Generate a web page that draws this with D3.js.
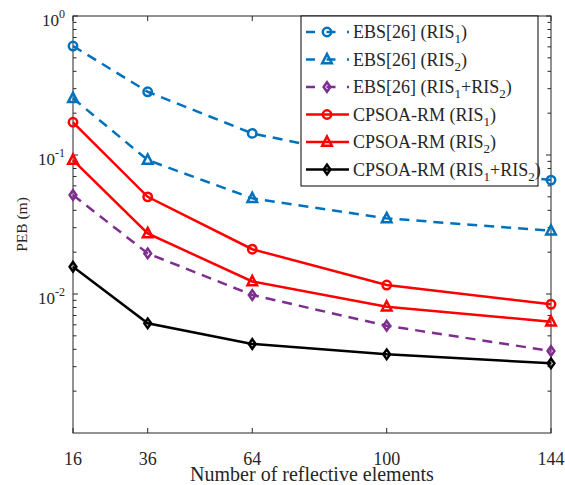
<!DOCTYPE html>
<html>
<head>
<meta charset="utf-8">
<script src="https://cdn.jsdelivr.net/npm/d3@7"></script>
<style>
  body { margin: 0; background: #fff; }
  svg text { font-family: "Liberation Serif", "Times New Roman", serif; fill: #262626; }
</style>
</head>
<body>
<svg id="chart"></svg>
<script>
// data
var elements = [16, 36, 64, 100, 144];
var ebsRis1 = [0.608, 0.285, 0.143, 0.091, 0.066];
var ebsRis2 = [0.256, 0.092, 0.0488, 0.035, 0.0285];
var ebsBoth = [0.0515, 0.0196, 0.00984, 0.00591, 0.00389];
var cpRis1 = [0.172, 0.050, 0.0210, 0.0116, 0.00843];
var cpRis2 = [0.092, 0.0273, 0.0123, 0.0081, 0.00632];
var cpBoth = [0.0157, 0.00615, 0.00437, 0.00368, 0.00317];
var yMajor = [1, 0.1, 0.01];
var yExp = ["0", "-1", "-2"];

var series = [
    {name: ["EBS[26] (RIS", "1", ")"], vals: ebsRis1, color: "#0072BD", dash: true, marker: "circle"},
    {name: ["EBS[26] (RIS", "2", ")"], vals: ebsRis2, color: "#0072BD", dash: true, marker: "triangle"},
    {name: ["EBS[26] (RIS", "1", "+RIS", "2", ")"], vals: ebsBoth, color: "#7E2F8E", dash: true, marker: "diamond"},
    {name: ["CPSOA-RM (RIS", "1", ")"], vals: cpRis1, color: "#FF0000", dash: false, marker: "circle"},
    {name: ["CPSOA-RM (RIS", "2", ")"], vals: cpRis2, color: "#FF0000", dash: false, marker: "triangle"},
    {name: ["CPSOA-RM (RIS", "1", "+RIS", "2", ")"], vals: cpBoth, color: "#000000", dash: false, marker: "diamond"}
];

var W = 565, H = 485;
var margin = {top: 16, right: 14, bottom: 52, left: 73};
var width = W - margin.left - margin.right,
    height = H - margin.top - margin.bottom;

var svg = d3.select("#chart").attr("width", W).attr("height", H);
var g = svg.append("g").attr("transform", "translate(" + margin.left + "," + margin.top + ")");

var x = d3.scaleLinear().domain([16, 144]).range([0, width]);
var y = d3.scaleLog().domain([1e-3, 1]).range([height, 0]);

// minor ticks on the log axis
var minor = [];
[1e-3, 1e-2, 1e-1].forEach(function (dec) {
    for (var k = 2; k <= 9; k++) minor.push(dec * k);
});

// ticks, MATLAB style (inward on all four sides)
var axisColor = "#262626";
var tk = g.append("g").attr("stroke", axisColor).attr("stroke-width", 1);
elements.forEach(function (v) {
    tk.append("line").attr("x1", x(v)).attr("x2", x(v)).attr("y1", height).attr("y2", height - 5);
    tk.append("line").attr("x1", x(v)).attr("x2", x(v)).attr("y1", 0).attr("y2", 5);
});
yMajor.forEach(function (v) {
    tk.append("line").attr("x1", 0).attr("x2", 5).attr("y1", y(v)).attr("y2", y(v));
    tk.append("line").attr("x1", width).attr("x2", width - 5).attr("y1", y(v)).attr("y2", y(v));
});
minor.forEach(function (v) {
    tk.append("line").attr("x1", 0).attr("x2", 3.5).attr("y1", y(v)).attr("y2", y(v));
    tk.append("line").attr("x1", width).attr("x2", width - 3.5).attr("y1", y(v)).attr("y2", y(v));
});
g.append("rect").attr("width", width).attr("height", height)
    .attr("fill", "none").attr("stroke", axisColor).attr("stroke-width", 1);

// x tick labels
g.selectAll(".xlab").data(elements).enter().append("text")
    .attr("class", "xlab")
    .attr("x", function (d) { return x(d); })
    .attr("y", height + 32)
    .attr("text-anchor", "middle")
    .style("font-size", "18px")
    .text(function (d) { return d; });

// y tick labels 10^n
yMajor.forEach(function (v, i) {
    var t = g.append("text")
        .attr("x", -8)
        .attr("y", y(v) + 10)
        .attr("text-anchor", "end")
        .style("font-size", "17px");
    t.append("tspan").text("10");
    t.append("tspan").attr("dy", -8).style("font-size", "12px").text(yExp[i]);
});

// axis titles
g.append("text")
    .attr("x", width / 2)
    .attr("y", height + 48)
    .attr("text-anchor", "middle")
    .style("font-size", "20px")
    .text("Number of reflective elements");
g.append("text")
    .attr("transform", "translate(" + (-46) + "," + (height / 2) + ")rotate(-90)")
    .attr("text-anchor", "middle")
    .style("font-size", "15.5px")
    .text("PEB (m)");

function drawMarker(sel, type, cx, cy, color) {
    var m;
    if (type === "circle") {
        m = sel.append("circle").attr("cx", cx).attr("cy", cy).attr("r", 4.2);
    } else if (type === "triangle") {
        m = sel.append("path").attr("d", "M" + cx + "," + (cy - 5.5) + "L" + (cx + 4.8) + "," + (cy + 3.8) + "L" + (cx - 4.8) + "," + (cy + 3.8) + "Z");
    } else {
        m = sel.append("path").attr("d", "M" + cx + "," + (cy - 4.8) + "L" + (cx + 3.4) + "," + cy + "L" + cx + "," + (cy + 4.8) + "L" + (cx - 3.4) + "," + cy + "Z");
    }
    m.attr("fill", "none").attr("stroke", color).attr("stroke-width", 2.5);
}

var line = d3.line()
    .x(function (d, i) { return x(elements[i]); })
    .y(function (d) { return y(d); });

series.forEach(function (s) {
    var sg = g.append("g");
    sg.append("path")
        .attr("d", line(s.vals))
        .attr("fill", "none")
        .attr("stroke", s.color)
        .attr("stroke-width", 2.5)
        .attr("stroke-dasharray", s.dash ? "10,7" : null);
    s.vals.forEach(function (v, i) {
        drawMarker(sg, s.marker, x(elements[i]), y(v), s.color);
    });
});

// legend
var lg = svg.append("g");
var lx = 301, ly = 16, lw = 237, lh = 170;
lg.append("rect").attr("x", lx).attr("y", ly).attr("width", lw).attr("height", lh)
    .attr("fill", "#fff").attr("stroke", "#000").attr("stroke-width", 1);
series.forEach(function (s, i) {
    var cy = ly + 16 + i * 27.5;
    lg.append("line").attr("x1", lx + 5).attr("x2", lx + 48).attr("y1", cy).attr("y2", cy)
        .attr("stroke", s.color).attr("stroke-width", 2.5)
        .attr("stroke-dasharray", s.dash ? "9,11.5" : null);
    drawMarker(lg, s.marker, lx + 26, cy, s.color);
    var t = lg.append("text").attr("x", lx + 52).attr("y", cy + 6).style("font-size", "18px");
    s.name.forEach(function (part, j) {
        var sub = (j % 2 === 1);
        var ts = t.append("tspan").text(part);
        if (sub) ts.attr("dy", 5).style("font-size", "13px");
        else if (j > 0) ts.attr("dy", -5);
    });
});
</script>
</body>
</html>
